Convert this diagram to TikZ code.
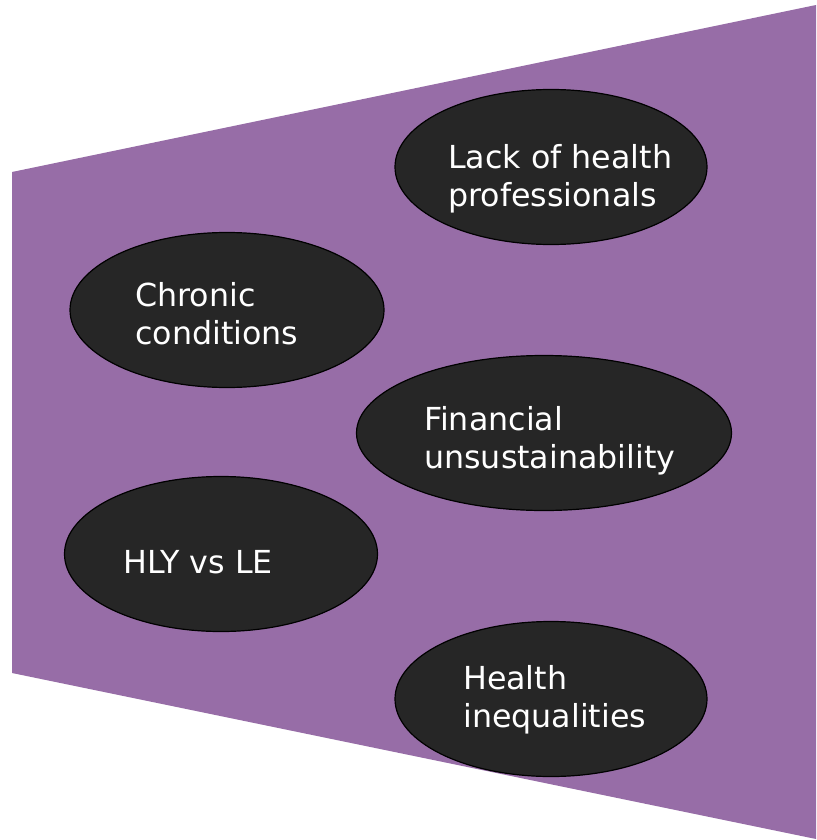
\documentclass[tikz,border=0pt]{standalone}
\usepackage{fontspec}
\setmainfont{DejaVu Sans}
\usepackage{tikz}
\usetikzlibrary{shapes.geometric}
\definecolor{backpurple}{RGB}{151,109,167}
\definecolor{bubblegray}{RGB}{38,38,38}

\begin{document}
\begin{tikzpicture}[x=1pt,y=-1pt]
                \tikzstyle{bubble}=[ellipse,draw=black,line width=1.2pt,fill=bubblegray,minimum height=155pt,inner sep=0pt]
                \tikzstyle{issue}=[text=white,align=left,inner sep=0pt,font=\fontsize{31.7}{37.5}\selectfont]
                \useasboundingbox (0,0) rectangle (816,840);
                \fill[backpurple] (12,172) -- (816,5) -- (816,839) -- (12,673) -- cycle;

                \foreach \name/\x/\y/\w in {lack/551/167/312, chronic/227/310/314, financial/544/433/375, hly/221/554/313, inequal/551/699/312}
                        \node[bubble,minimum width=\w pt] (\name) at (\x,\y) {};

                % anchor sits on the baseline of the last line
                \node[issue,anchor=base west] (lack-t) at (448,206) {Lack of health\\professionals};
                \node[issue,anchor=base west] (chronic-t) at (135,344) {Chronic\\conditions};
                \node[issue,anchor=base west] (financial-t) at (424,468) {Financial\\unsustainability};
                \node[issue,anchor=base west] (hly-t) at (123,573) {HLY vs LE};
                \node[issue,anchor=base west] (inequal-t) at (463,727) {Health\\inequalities};

            \end{tikzpicture}
\end{document}
